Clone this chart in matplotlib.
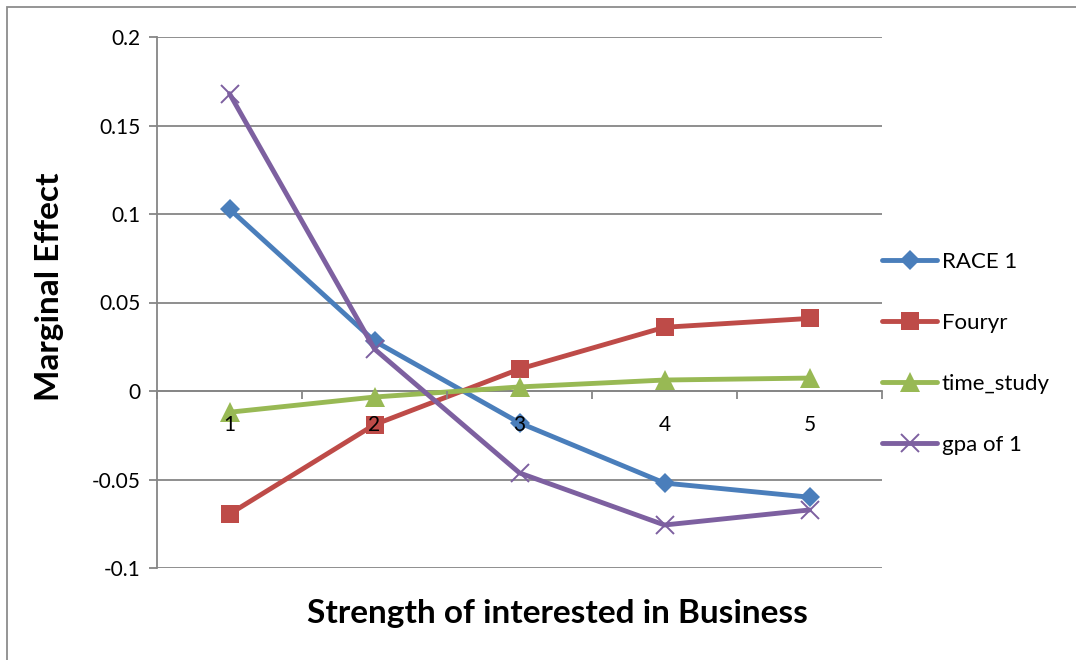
import matplotlib
matplotlib.use("Agg")
import matplotlib.pyplot as plt
from matplotlib.patches import Rectangle
from matplotlib.ticker import FixedLocator, NullFormatter

plt.rcParams['font.family'] = ['Lato', 'DejaVu Sans']

categories = [1, 2, 3, 4, 5]
category_labels = ["1", "2", "3", "4", "5"]
race_1 = [0.1028, 0.0282, -0.0180, -0.0520, -0.0600]
fouryr = [-0.0695, -0.0190, 0.0124, 0.0360, 0.0410]
time_study = [-0.0120, -0.0034, 0.0023, 0.0062, 0.0073]
gpa_of_1 = [0.1680, 0.0237, -0.0463, -0.0757, -0.0672]
y_ticks = [-0.1, -0.05, 0, 0.05, 0.1, 0.15, 0.2]
y_tick_labels = ["-0.1", "-0.05", "0", "0.05", "0.1", "0.15", "0.2"]

W, H = 1076, 660
fig = plt.figure(figsize=(W / 100, H / 100), dpi=100)
fig.patch.set_facecolor("white")

# chart border (only top and left edges fall inside the canvas)
fig.add_artist(Rectangle((7 / W, -0.2), 1.2, 1.2 - 7 / H,
                         transform=fig.transFigure, fill=False,
                         edgecolor="#8c8c8c", linewidth=1.3, clip_on=False))

ax = fig.add_axes([157 / W, 1 - 568 / H, (882 - 157) / W, (568 - 37) / H])

grid_col = "#868686"
series = [
    ("RACE 1", race_1, "#4A7EBB", "D", 10),
    ("Fouryr", fouryr, "#BE4B48", "s", 13.5),
    ("time_study", time_study, "#98B954", "^", 14),
    ("gpa of 1", gpa_of_1, "#7D60A0", "x", 13),
]
for name, vals, col, mk, ms in series:
    kw = dict(markersize=ms, markerfacecolor=col, markeredgecolor=col)
    kw["markeredgewidth"] = 1.4 if mk == "x" else 0
    ax.plot(categories, vals, color=col, linewidth=3.5, marker=mk,
            label=name, solid_capstyle="round", zorder=3, **kw)

ax.set_xlim(0.5, 5.5)
ax.set_ylim(-0.1, 0.2)

ax.set_yticks(y_ticks)
ax.set_yticklabels(y_tick_labels)
ax.yaxis.grid(True, color=grid_col, linewidth=1.3)
ax.set_axisbelow(True)
# category labels sit on top of the series lines
ax.xaxis.set_zorder(4)

ax.spines["top"].set_visible(False)
ax.spines["right"].set_visible(False)
ax.spines["left"].set_color(grid_col)
ax.spines["left"].set_linewidth(1.3)
ax.spines["bottom"].set_position(("data", 0))
ax.spines["bottom"].set_color(grid_col)
ax.spines["bottom"].set_linewidth(1.3)

# category boundaries carry tick marks; category centres carry labels
ax.xaxis.set_major_locator(FixedLocator([0.5, 1.5, 2.5, 3.5, 4.5, 5.5]))
ax.xaxis.set_major_formatter(NullFormatter())
ax.xaxis.set_minor_locator(FixedLocator(categories))
ax.set_xticklabels(category_labels, minor=True)
ax.tick_params(axis="x", which="major", direction="out", length=6,
               width=1.3, color=grid_col)
ax.tick_params(axis="x", which="minor", length=0, pad=17, labelsize=15)
ax.tick_params(axis="y", direction="out", length=6, width=1.3,
               color=grid_col, labelsize=15, pad=6)

fig.text(50 / W, 1 - 287 / H, "Marginal Effect", rotation=90,
         ha="center", va="center", fontsize=24, fontweight="bold")
fig.text(557 / W, 1 - 614 / H, "Strength of interested in Business",
         ha="center", va="center", fontsize=24, fontweight="bold")

fig.legend(loc="upper left", bbox_to_anchor=(873 / W, 1 - 243 / H),
           frameon=False, fontsize=16, handlelength=2.5, handletextpad=0.2,
           labelspacing=1.85, borderaxespad=0)

fig.savefig("out.png", dpi=100)
